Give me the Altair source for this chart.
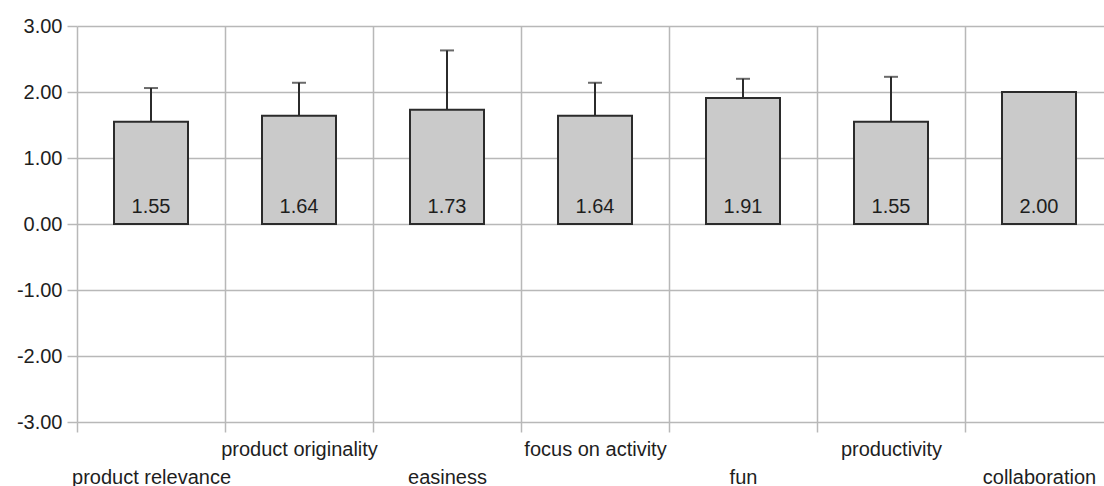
import altair as alt
import pandas as pd

categories = ["product relevance", "product originality", "easiness",
              "focus on activity", "fun", "productivity", "collaboration"]
means = [1.55, 1.64, 1.73, 1.64, 1.91, 1.55, 2.00]
upper = [2.06, 2.14, 2.63, 2.14, 2.20, 2.23, 2.00]
y_ticks = [-3, -2, -1, 0, 1, 2, 3]

df = pd.DataFrame({"cat": categories, "mean": means, "upper": upper})
df["label"] = [f"{v:.2f}" for v in means]

FONT = "Liberation Sans"
GRID = "#b8b8b8"
DARK = "#2b2b2b"

x_enc = alt.X(
    "cat:N", sort=categories, title=None,
    scale=alt.Scale(range=[0, 1036], paddingInner=0, paddingOuter=0),
    axis=alt.Axis(
        tickBand="extent", grid=True, gridColor=GRID, gridWidth=1.5,
        domain=False, ticks=True, tickSize=10, tickColor=GRID, tickWidth=1.5,
        labelAngle=0, labelFont=FONT, labelFontSize=20, labelColor="#1e1e1e",
        labelPadding=7, labelBaseline="top", labelLineHeight=28,
        labelExpr="round(datum.index*6) % 2 == 0 ? ['', datum.label] : datum.label",
        labelOverlap=False, labelLimit=0,
    ),
)

y_scale = alt.Scale(domain=[-3, 3], nice=False, zero=False)
y_enc = alt.Y(
    "mean:Q", scale=y_scale, title=None,
    axis=alt.Axis(
        values=y_ticks, format=".2f", grid=True, gridColor=GRID, gridWidth=1.5,
        domain=False, tickSize=10, tickColor=GRID, tickWidth=1.5,
        labelFont=FONT, labelFontSize=20, labelColor="#1e1e1e", labelPadding=5,
        labelExpr="replace(datum.label, '\u2212', '-')",
    ),
)

base = alt.Chart(df)

bars = base.mark_bar(
    width=alt.RelativeBandSize(0.5), color="#cacaca",
    stroke=DARK, strokeWidth=2,
).encode(x=x_enc, y=y_enc, y2=alt.datum(0))

rules = base.mark_rule(color=DARK, strokeWidth=2).encode(
    x=alt.X("cat:N", sort=categories),
    y=alt.Y("mean:Q"),
    y2="upper:Q",
)

caps = base.mark_tick(color=DARK, thickness=2, size=14, orient="horizontal").encode(
    x=alt.X("cat:N", sort=categories),
    y=alt.Y("upper:Q"),
)

texts = base.mark_text(
    font=FONT, fontSize=20, color="#1e1e1e", baseline="alphabetic",
    align="center", dy=-11,
).encode(
    x=alt.X("cat:N", sort=categories),
    y=alt.datum(0),
    text="label:N",
)

chart = alt.layer(bars, rules, caps, texts).properties(
    width=1027, height=396,
    autosize=alt.AutoSizeParams(type="none"),
    padding={"left": 77, "top": 26, "right": 0, "bottom": 64},
    background="white",
).configure_view(stroke=None)

chart.save("out.html", embed_options={"renderer": "svg", "actions": False})
